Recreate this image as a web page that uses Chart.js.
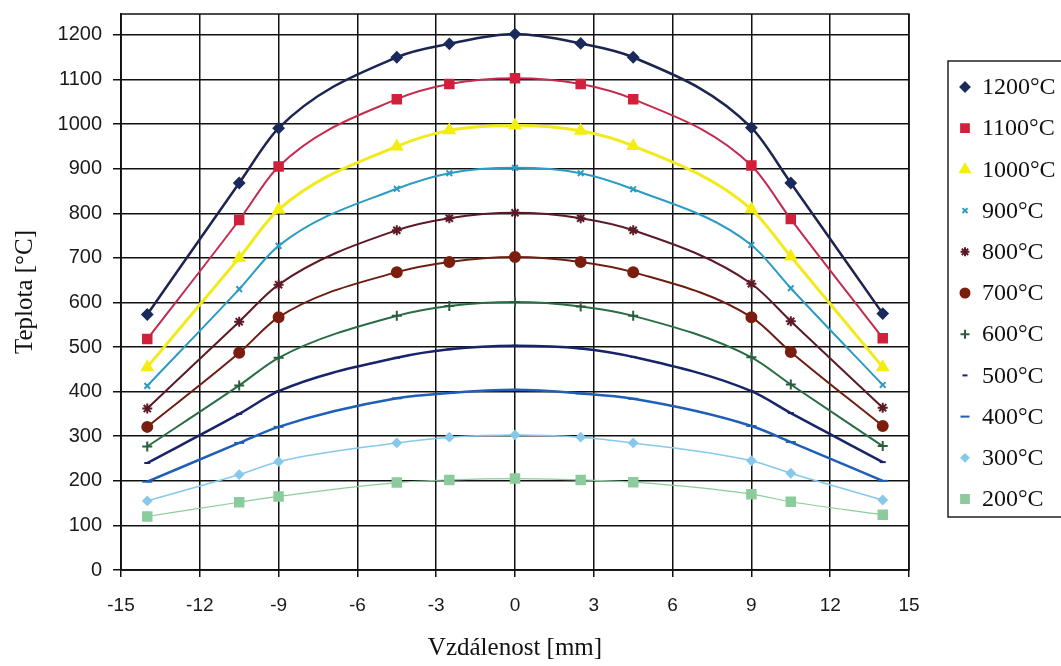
<!DOCTYPE html>
<html>
<head>
<meta charset="utf-8">
<title>Teplota</title>
<script src="https://cdn.jsdelivr.net/npm/chart.js@4/dist/chart.umd.min.js"></script>
<style>
  html, body { margin: 0; padding: 0; background: #fff; }
  canvas { display: block; }
</style>
</head>
<body>
<canvas id="chart" width="1061" height="666"></canvas>
<script>
// distance from centre [mm]
const xPositions = [-14, -10.5, -9, -4.5, -2.5, 0, 2.5, 4.5, 9, 10.5, 14];
const xTicks = [-15, -12, -9, -6, -3, 0, 3, 6, 9, 12, 15];
const yTicks = [0, 100, 200, 300, 400, 500, 600, 700, 800, 900, 1000, 1100, 1200];

const seriesLabels = ['1200°C', '1100°C', '1000°C', '900°C', '800°C', '700°C',
  '600°C', '500°C', '400°C', '300°C', '200°C'];

// temperatures
const t1200 = [573, 868, 991, 1150, 1180, 1202, 1181, 1150, 992, 868, 575];
const t1100 = [518, 785, 905, 1056, 1090, 1103, 1090, 1056, 907, 787, 520];
const t1000 = [455, 700, 808, 950, 986, 997, 985, 951, 809, 703, 455];
const t900 = [413, 630, 727, 855, 890, 902, 890, 854, 729, 632, 415];
const t800 = [362, 557, 640, 762, 789, 801, 789, 762, 642, 558, 364];
const t700 = [321, 487, 567, 668, 691, 702, 691, 668, 567, 489, 323];
const t600 = [277, 414, 476, 570, 592, 601, 591, 570, 477, 416, 278];
const t500 = [240, 350, 401, 476, 495, 503, 497, 478, 401, 352, 242];
const t400 = [198, 285, 321, 385, 397, 404, 396, 384, 323, 287, 200];
const t300 = [155, 214, 243, 285, 298, 303, 298, 285, 245, 217, 157];
const t200 = [120, 152, 165, 196, 202, 205, 202, 197, 170, 153, 124];

const seriesValues = [t1200, t1100, t1000, t900, t800, t700, t600, t500, t400, t300, t200];

// look of each series
const lineColors = ['#1b2550', '#c42b4e', '#f2ea1c', '#2b9cc4', '#5c1a26', '#6e1e10',
  '#2a6d45', '#17246a', '#1f5fb8', '#86c9ea', '#8ccc9c'];
const markerColors = ['#1b2a5c', '#d0203c', '#f4ee10', '#2b9cc4', '#5c1a26', '#7a1e10',
  '#2a5d3a', '#17246a', '#1f5fb8', '#86c9ea', '#8ccc9c'];
const markerStyles = ['rectRot', 'rect', 'triangle', 'crossRot', 'star', 'circle',
  'cross', 'line', 'line', 'rectRot', 'rect'];
const markerSizes = [5, 6, 6, 4, 5, 5, 5, 3, 5, 4, 6];
const lineWidths = [2.5, 2, 3, 2, 2, 2, 2, 2.5, 2.5, 1.5, 1.2];

const datasets = seriesLabels.map((label, i) => ({
  label: label,
  data: xPositions.map((x, j) => ({ x: x, y: seriesValues[i][j] })),
  borderColor: lineColors[i],
  borderWidth: lineWidths[i],
  backgroundColor: markerColors[i],
  pointBackgroundColor: markerColors[i],
  pointBorderColor: markerColors[i],
  pointBorderWidth: 2,
  pointStyle: markerStyles[i],
  pointRadius: markerSizes[i],
  cubicInterpolationMode: 'monotone',
  fill: false
}));

// top and right edge of the plot frame
const plotFrame = {
  id: 'plotFrame',
  beforeDatasetsDraw(chart) {
    const { ctx, chartArea: a } = chart;
    ctx.save();
    ctx.strokeStyle = '#111';
    ctx.lineWidth = 1.5;
    ctx.strokeRect(a.left, a.top, a.right - a.left, a.bottom - a.top);
    ctx.restore();
  }
};

// legend box at the right, partly cut off like in the scan
const legendBox = {
  id: 'legendBox',
  afterDraw(chart) {
    const ctx = chart.ctx;
    ctx.save();
    ctx.strokeStyle = '#222';
    ctx.lineWidth = 1.5;
    ctx.strokeRect(948, 61, 140, 456);
    chart.data.datasets.forEach((ds, i) => {
      const y = 87 + i * 41.2;
      const opts = { pointStyle: ds.pointStyle, radius: ds.pointRadius - 0.5, rotation: 0, borderWidth: 2 };
      ctx.fillStyle = ds.pointBackgroundColor;
      ctx.strokeStyle = ds.pointBorderColor;
      ctx.lineWidth = 2;
      if (Chart.helpers && Chart.helpers.drawPoint) {
        Chart.helpers.drawPoint(ctx, opts, 965, y);
      } else {
        ctx.beginPath();
        ctx.arc(965, y, 4, 0, Math.PI * 2);
        ctx.fill();
      }
      ctx.fillStyle = '#111';
      ctx.font = '24px "Liberation Serif", "Times New Roman", serif';
      ctx.textBaseline = 'middle';
      ctx.textAlign = 'left';
      ctx.fillText(ds.label, 982, y + 1);
    });
    ctx.restore();
  }
};

Chart.defaults.font.family = '"Liberation Sans", Arial, sans-serif';
Chart.defaults.color = '#1a1a1a';

new Chart(document.getElementById('chart'), {
  type: 'line',
  data: { datasets: datasets },
  options: {
    responsive: false,
    animation: false,
    layout: { padding: { left: 0, right: 152, top: 14, bottom: 0 } },
    plugins: {
      legend: { display: false },
      tooltip: { enabled: false }
    },
    scales: {
      x: {
        type: 'linear',
        min: -15,
        max: 15,
        afterFit(scale) {
          scale.height = 96;
          scale.paddingLeft = 0;
          scale.paddingRight = 0;
        },
        afterBuildTicks(scale) { scale.ticks = xTicks.map(v => ({ value: v })); },
        grid: { color: '#111', lineWidth: 1.5, tickLength: 7, tickColor: '#111' },
        border: { color: '#111', width: 1.5 },
        ticks: { font: { size: 19 }, padding: 17, maxRotation: 0, callback: v => String(v) },
        title: {
          display: true,
          text: 'Vzdálenost [mm]',
          font: { family: '"Liberation Serif", "Times New Roman", serif', size: 25 },
          padding: { top: 0, bottom: 3 },
          color: '#111'
        }
      },
      y: {
        type: 'linear',
        min: 0,
        max: 1247,
        afterFit(scale) {
          scale.width = 121;
          scale.paddingTop = 0;
          scale.paddingBottom = 0;
        },
        afterBuildTicks(scale) { scale.ticks = yTicks.map(v => ({ value: v })); },
        grid: { color: '#111', lineWidth: 1.5, tickLength: 8, tickColor: '#111' },
        border: { color: '#111', width: 1.5 },
        ticks: { font: { size: 20 }, padding: 11, callback: v => String(v) },
        title: {
          display: true,
          text: 'Teplota [°C]',
          font: { family: '"Liberation Serif", "Times New Roman", serif', size: 25 },
          padding: { top: 10, bottom: 0 },
          color: '#111'
        }
      }
    }
  },
  plugins: [plotFrame, legendBox]
});
</script>
</body>
</html>
